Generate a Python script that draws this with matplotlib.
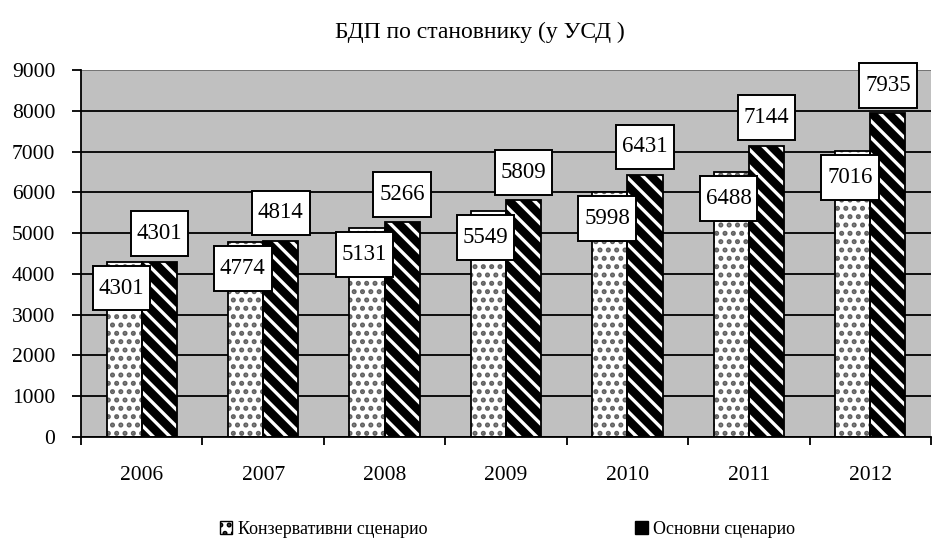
import matplotlib

matplotlib.use("Agg")
import matplotlib.pyplot as plt
import numpy as np
from matplotlib.patches import Patch
from matplotlib.path import Path

years = ["2006", "2007", "2008", "2009", "2010", "2011", "2012"]
conservative = [4301, 4774, 5131, 5549, 5998, 6488, 7016]
basic = [4301, 4814, 5266, 5809, 6431, 7144, 7935]
yticks = [0, 1000, 2000, 3000, 4000, 5000, 6000, 7000, 8000, 9000]

title = "БДП по становнику (у УСД )"
label_cons = "Конзервативни сценарио"
label_basic = "Основни сценарио"

plt.rcParams["font.family"] = ["Liberation Serif", "DejaVu Serif"]
plt.rcParams["hatch.linewidth"] = 2.4


def tall_box(x0, y0, width, height, mutation_size):
    # label box: narrow side padding, taller top/bottom padding
    px = 0.26 * mutation_size
    py = 0.52 * mutation_size
    x0, y0 = x0 - px, y0 - py
    x1, y1 = x0 + width + 2 * px, y0 + height + 2 * py
    return Path([(x0, y0), (x1, y0), (x1, y1), (x0, y1), (x0, y0)], closed=True)


fig = plt.figure(figsize=(9.36, 5.44), dpi=100)
ax = fig.add_axes([81 / 936, 1 - 437 / 544, 850 / 936, 367 / 544])
ax.set_facecolor("#c0c0c0")

x = np.arange(len(years))
w = 0.29

# grid behind bars
ax.set_axisbelow(True)
ax.yaxis.grid(True, color="black", linewidth=1.3)

# conservative: white with dots
ax.bar(x - w / 2, conservative, w, color="white", edgecolor="#606060",
       hatch="..", linewidth=0, zorder=2)
ax.bar(x - w / 2, conservative, w, fill=False, edgecolor="black",
       linewidth=1.3, zorder=3)
# basic: black with white diagonal stripes
ax.bar(x + w / 2, basic, w, color="black", edgecolor="white",
       hatch="\\\\", linewidth=0, zorder=2)
ax.bar(x + w / 2, basic, w, fill=False, edgecolor="black",
       linewidth=1.3, zorder=3)

box = dict(boxstyle=tall_box, facecolor="white", edgecolor="black", linewidth=1.4)
for i in range(len(years)):
    ax.annotate(str(conservative[i]), (x[i] - w / 2, conservative[i]),
                xytext=(-2, -19), textcoords="offset points",
                ha="center", va="center", fontsize=16.5, bbox=box, zorder=5)
    ax.annotate(str(basic[i]), (x[i] + w / 2, basic[i]),
                xytext=(0, 20), textcoords="offset points",
                ha="center", va="center", fontsize=16.5, bbox=box, zorder=5)

ax.set_xlim(-0.5, len(years) - 0.5)
ax.set_ylim(0, 9000)
ax.set_yticks(yticks)
ax.tick_params(axis="y", length=6.5, width=1.3, labelsize=15.5, pad=12)
ax.set_xticks(x)
ax.set_xticklabels(years)
ax.tick_params(axis="x", length=0, labelsize=15.5, pad=21)
ax.set_xticks(np.arange(len(years) + 1) - 0.5, minor=True)
ax.tick_params(axis="x", which="minor", length=6, width=1.3)

for s in ["top", "right"]:
    ax.spines[s].set_visible(False)
ax.spines["left"].set_linewidth(1.3)
ax.spines["bottom"].set_linewidth(1.3)
ax.axhline(9000, color="#808080", linewidth=1.3, zorder=1)

fig.text(0.513, 1 - 32 / 544, title, ha="center", va="center", fontsize=17)

# legend
handles = [
    Patch(facecolor="white", edgecolor="black", hatch="..", linewidth=1),
    Patch(facecolor="black", edgecolor="black", linewidth=1),
]
fig.legend(handles, [label_cons, label_basic], loc="center",
           bbox_to_anchor=(0.542, 1 - 529 / 544), ncol=2, frameon=False,
           fontsize=13, handlelength=0.7, handleheight=0.7,
           handletextpad=0.3, columnspacing=11.5)

fig.savefig("out.png", dpi=100)
